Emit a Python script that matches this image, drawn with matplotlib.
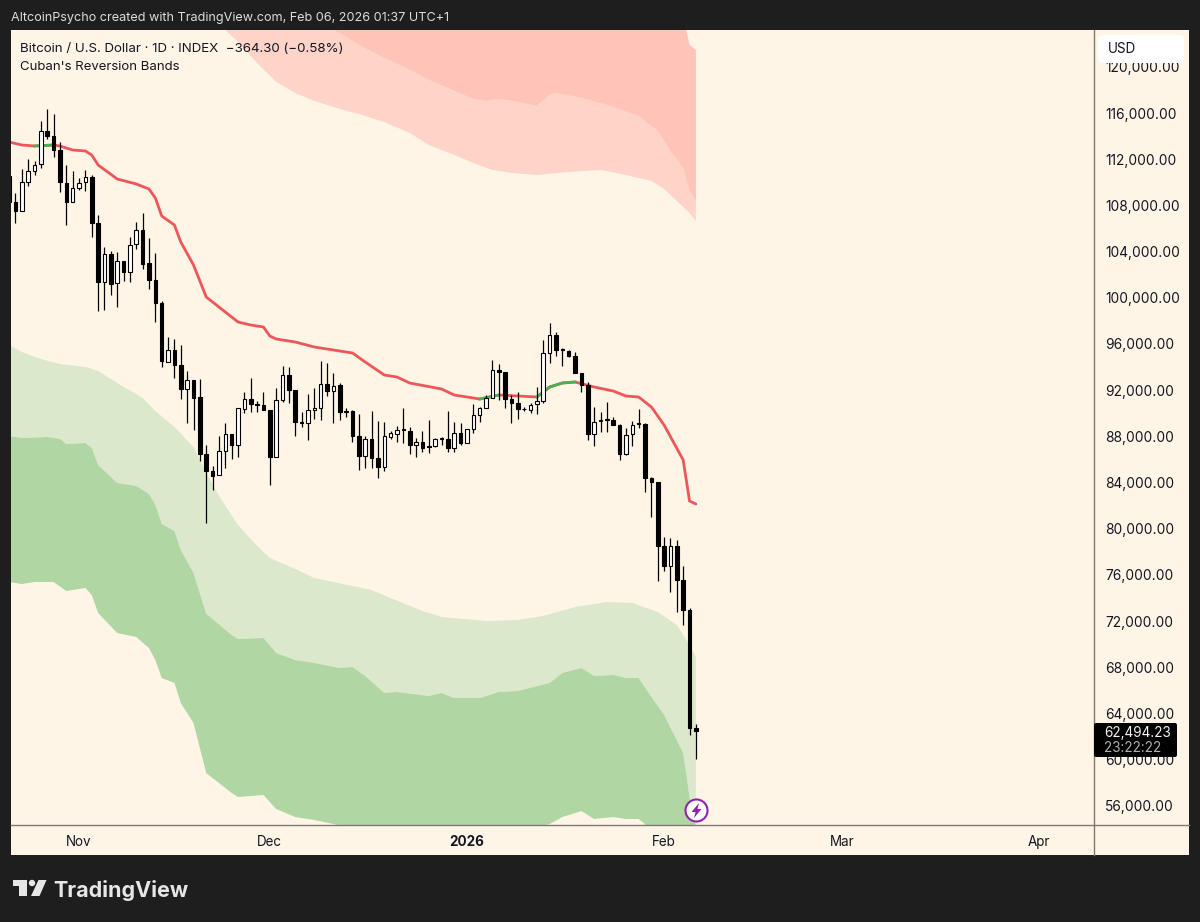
import numpy as np
import matplotlib
matplotlib.use("Agg")
import matplotlib.pyplot as plt
from matplotlib.patches import Rectangle, FancyBboxPatch, Circle, Polygon
from matplotlib.lines import Line2D
from matplotlib.transforms import Affine2D

plt.rcParams['font.family'] = ['Inter', 'DejaVu Sans']

# x axis is days counted from Nov 1, 2025
candle_days = np.arange(-11, 98)

opens = [110544,108293,107513,110025,110977,111584,114441,114008,112796,109939,
         108293,109505,110025,110458,106474,101365,103790,101279,103183,102231,
         104656,105868,103010,101538,99546,94437,95476,94177,92099,92878,
         91406,86470,85000,84654,86730,88201,87249,90367,91233,90800,
         90713,90280,86210,91146,93311,92012,89241,89154,90280,90453,
         92532,91925,92445,90193,90193,88028,86297,87769,86124,85344,
         87942,88201,88548,88461,87249,87509,87162,87162,87769,87769,
         86989,88288,87422,88635,89847,90453,91319,93744,93571,91233,
         90886,90367,90280,90800,91059,95216,96775,95563,95389,94956,
         93484,92445,88201,89327,89414,89414,88981,86470,88201,89068,
         89068,84391,84045,78502,76770,78502,75558,72960,62741]
highs = [111064,109072,111151,112017,111843,115307,116347,115914,113489,111497,
         110977,110371,111064,110631,107167,104396,104049,103963,103183,105262,
         106561,107340,105175,103876,99719,96602,96429,95909,93657,92878,
         92965,87249,85430,88028,89154,88201,90453,91839,93051,91059,
         91839,90280,92185,94090,94004,92012,90107,91666,92185,94524,
         94350,93484,92618,90453,90280,89934,88028,90193,89327,89241,
         88461,88894,90453,88807,87855,88461,89414,87855,87942,90193,
         89241,89154,88635,90800,90540,91579,94610,94264,93571,91579,
         91839,90540,90886,92272,96342,97814,97035,95649,95476,95303,
         93484,92705,90540,90107,90973,89674,89068,88721,89327,90367,
         89154,84477,84045,79282,79195,79022,76770,73133,63088]
lows = [107600,106474,107513,109678,110631,111237,113749,112190,109159,106301,
        108293,109332,109245,105262,98853,98940,100239,99200,101452,101365,
        104223,102491,100759,97901,94004,94437,93051,91233,89154,88548,
        85863,80494,83352,84654,85257,86037,86210,90020,90107,90107,
        90280,83785,86210,90973,90886,88028,88807,87682,89500,89414,
        91492,89154,89414,89674,87509,85084,85257,85257,84391,85000,
        87769,87509,87422,86470,86210,86643,86556,87076,87249,86643,
        86643,87249,87422,88288,89241,90453,91319,91146,90453,89154,
        89500,90193,90020,89934,90886,94350,94956,94090,94870,93484,
        91839,87682,87162,88375,88375,88981,85950,86383,87162,88721,
        83179,81014,75471,76337,74519,72787,71661,62135,60057]
closes = [108293,107513,110025,110977,111497,114441,114008,112796,110025,108293,
          109505,109939,110458,106474,101365,103790,101192,103183,102231,104569,
          105868,102924,101538,99546,94524,95476,94177,92099,92878,91319,
          86470,85000,84567,86730,88201,87249,90453,91233,90800,90713,
          90280,86210,91146,93311,92012,89241,89154,90280,90453,92532,
          91925,92358,90107,90107,88028,86297,87769,86124,85344,88028,
          88288,88548,88635,87249,87509,86989,87076,87769,87855,86989,
          88288,87422,88635,89847,90453,91319,93744,93571,91233,90886,
          90367,90340,90713,91059,95216,96775,95476,95476,94956,93484,
          92445,88201,89241,89414,89500,88981,86470,88115,88981,89154,
          84391,84045,78502,76770,78502,75558,72960,62741,62494]

# Reversion bands, read at the kinks of each edge
mean_days = [-11,-9,-7,-4,-3,-1,1,2,3,6,9,11,12,13,15,16,18,20,22,24,25,27,29,30,31,34,37,43,45,48,50,52,57,59,63,66,72,74,76,78,81,84,86,88,90,92,95,96,97]
mean_vals = [113489,113229,113143,113229,113143,112796,112709,112363,111497,110285,109853,109419,108639,107080,106301,104829,102837,100066,99200,98334,97901,97641,97468,96689,96430,96169,95736,95216,94437,93311,93138,92618,92099,91579,91233,91579,91406,92272,92618,92705,92272,91925,91492,91406,90540,88981,85950,82399,82139]
mean_green_ranges = [(-7, -4), (63, 66), (72, 78)]

l1_days = [-11,-9,-6,-3,1,3,6,10,12,15,18,20,22,25,28,30,34,37,43,46,49,54,57,64,69,73,78,83,87,91,94,96,97]
l1_vals = [95909,95303,94697,94264,94004,93657,92618,91319,90193,88807,87076,84824,82832,80321,78502,77463,76510,75731,75038,74692,73999,72873,72354,72007,72094,72440,73220,73653,73566,72787,71661,69929,68890]

l2_days = [-11,-9,-5,-3,-2,1,2,3,6,9,11,12,13,15,16,18,20,21,24,25,29,31,34,37,41,43,45,48,50,55,57,59,63,66,69,74,76,79,81,84,86,88,90,92,95,96,97]
l2_vals = [88028,87855,87942,87769,87336,87422,86989,85517,83958,83699,83006,82053,80408,79802,78156,76165,72613,72180,70794,70448,70535,69236,68630,68370,67937,68024,67245,65772,65859,65512,65772,65339,65339,65859,65945,66638,67504,67937,67245,67331,67071,67071,65426,63867,60576,56766,54081]

l3_days = [-11,-9,-7,-4,-2,1,2,3,6,9,11,12,13,15,16,18,20,21,24,25,29,31,34,37,40,48,66,74,76,79,81,84,86,88,89,90,97]
l3_vals = [75385,75212,75385,75385,74606,74866,74259,72700,70968,70621,69669,68630,67071,66638,64906,63174,58844,58411,57112,56766,56939,55727,55034,54774,54427,53215,53388,54427,55034,55553,54860,55034,54860,54860,54427,53041,49577]

u1_days = [21,23,25,28,31,34,37,41,44,48,52,55,59,62,65,68,72,77,82,86,90,92,94,96,97]
u1_vals = [124487,123188,122150,120320,118690,117730,117040,116347,115914,115220,114268,113229,112363,111670,111064,110804,110631,110890,111064,110631,110112,109419,108380,107340,106647]

u2_days = [37,41,44,47,52,55,59,62,64,66,68,72,74,75,79,83,88,91,93,95,96,97]
u2_vals = [123881,122928,121889,121023,119724,118858,117906,117213,117039,117213,117039,116606,117559,117732,117299,116693,115740,114441,112709,111237,109245,108380]

u3_days = [37,90,95,96,97]
u3_vals = [126652,125000,124500,121889,121456]

y_ticks = list(range(56000, 124000, 4000))
x_tick_days = [0, 30, 61, 92, 120, 151]
x_tick_labels = ['Nov', 'Dec', '2026', 'Feb', 'Mar', 'Apr']

BG = '#fff5e7'
FRAME = '#1e1e1e'
INK = '#131722'
AXIS = '#7d7a72'
PALE_RED = '#ffd4c8'
DARK_RED = '#ffc3b8'
PALE_GREEN = '#dce8cb'
DARK_GREEN = '#b0d6a3'
RED_LINE = '#ef5659'
GREEN_LINE = '#4caf50'

W, H = 1200, 922
fig = plt.figure(figsize=(12, 9.22), dpi=100, facecolor=FRAME)
px = Affine2D().scale(1 / W, -1 / H).translate(0, 1) + fig.transFigure

# chart card behind the axes and the price scale
fig.add_artist(Rectangle((11, 30), 1178, 825, transform=px, fc=BG, ec='none', zorder=-1))

ax = fig.add_axes([11 / W, 1 - 825 / H, (1094 - 11) / W, (825 - 30) / H], facecolor=BG)
ax.set_xlim(-10.7, 159.6)
ax.set_ylim(54341, 123188)


def band(days_a, vals_a, days_b, vals_b, color):
    xs = list(days_a) + list(days_b)[::-1]
    ys = list(vals_a) + list(vals_b)[::-1]
    ax.fill(xs, ys, color=color, lw=0, zorder=1)


band(u1_days, u1_vals, u2_days, u2_vals, PALE_RED)
band(u2_days, u2_vals, u3_days, u3_vals, DARK_RED)
band(l1_days, l1_vals, l2_days, l2_vals, PALE_GREEN)
band(l2_days, l2_vals, l3_days, l3_vals, DARK_GREEN)

# mean line, red with green stretches
ax.plot(mean_days, mean_vals, color=RED_LINE, lw=2, zorder=2, solid_capstyle='round')
m_d = np.array(mean_days)
m_v = np.array(mean_vals)
for a, b in mean_green_ranges:
    keep = (m_d >= a) & (m_d <= b)
    ax.plot(m_d[keep], m_v[keep], color=GREEN_LINE, lw=2, zorder=2.1)

# candles
o = np.array(opens)
c = np.array(closes)
body_low = np.minimum(o, c)
body_h = np.abs(c - o)
face = ['white' if cl >= op else 'black' for op, cl in zip(o, c)]
ax.vlines(candle_days, lows, highs, color='black', lw=0.9, zorder=3)
ax.bar(candle_days, body_h, bottom=body_low, width=0.56, color=face,
       edgecolor='black', linewidth=0.8, zorder=4)

# axes
for side in ['top', 'left']:
    ax.spines[side].set_visible(False)
for side in ['right', 'bottom']:
    ax.spines[side].set_color(AXIS)
    ax.spines[side].set_linewidth(1.0)
ax.yaxis.tick_right()
ax.set_yticks(y_ticks)
ax.set_yticklabels([f'{v:,.2f}' for v in y_ticks])
ax.set_xticks(x_tick_days)
ax.set_xticklabels(x_tick_labels)
ax.tick_params(axis='y', length=0, pad=8, labelsize=9.9, labelcolor=INK)
ax.tick_params(axis='x', length=0, pad=7, labelsize=9.7, labelcolor=INK)
ax.get_xticklabels()[2].set_fontweight('bold')

fig.add_artist(Line2D([1094, 1189], [825, 825], transform=px, color=AXIS, lw=1.0))
fig.add_artist(Line2D([1094, 1094], [825, 855], transform=px, color=AXIS, lw=1.0))

# texts
fig.text(11 / W, 1 - 18.5 / H, 'AltcoinPsycho created with TradingView.com, Feb 06, 2026 01:37 UTC+1',
         color='#dcdcdc', fontsize=9.1, va='center')
fig.text(20 / W, 1 - 48.5 / H, 'Bitcoin / U.S. Dollar · 1D · INDEX  −364.30 (−0.58%)',
         color=INK, fontsize=9.6, va='center', zorder=6)
fig.text(20 / W, 1 - 67.5 / H, "Cuban's Reversion Bands", color=INK, fontsize=9.5, va='center', zorder=6)

# USD box
fig.add_artist(FancyBboxPatch((1102, 39), 78, 20, boxstyle='round,pad=4,rounding_size=5',
                              transform=px, fc='white', ec='none', zorder=5))
fig.text(1108 / W, 1 - 49 / H, 'USD', color=INK, fontsize=9.7, va='center', zorder=6)

# last price box
fig.add_artist(FancyBboxPatch((1096, 725), 79, 30, boxstyle='round,pad=2,rounding_size=2',
                              transform=px, fc='black', ec='none', zorder=5))
fig.text(1104 / W, 1 - 733 / H, '62,494.23', color='#f2f2f2', fontsize=9.8, va='center', zorder=6)
fig.text(1104 / W, 1 - 748 / H, '23:22:22', color='#b0b0b0', fontsize=9.8, va='center', zorder=6)

# purple flash marker
fig.add_artist(Circle((696.5, 810.5), 11, transform=px, fc='white', ec='#8e24aa', lw=1.5, zorder=5))
fig.add_artist(Polygon([(699, 803), (691.5, 812), (695.5, 812), (694, 818), (701.5, 809), (697.5, 809)],
                       closed=True, transform=px, fc='#8e24aa', ec='none', zorder=6))

# logo
logo_col = '#e6e6e6'
fig.add_artist(Polygon([(13, 880), (27, 880), (27, 896), (19, 896), (19, 886), (13, 886)],
                       closed=True, transform=px, fc=logo_col, ec='none'))
fig.add_artist(Circle((32, 883), 3.2, transform=px, fc=logo_col, ec='none'))
fig.add_artist(Polygon([(38.5, 880), (46.5, 880), (39.5, 896), (31, 896)],
                       closed=True, transform=px, fc=logo_col, ec='none'))
fig.text(53 / W, 1 - 890 / H, 'TradingView', color=logo_col, fontsize=15.5, fontweight='bold', va='center')

fig.savefig('out.png', dpi=100, facecolor=fig.get_facecolor())
